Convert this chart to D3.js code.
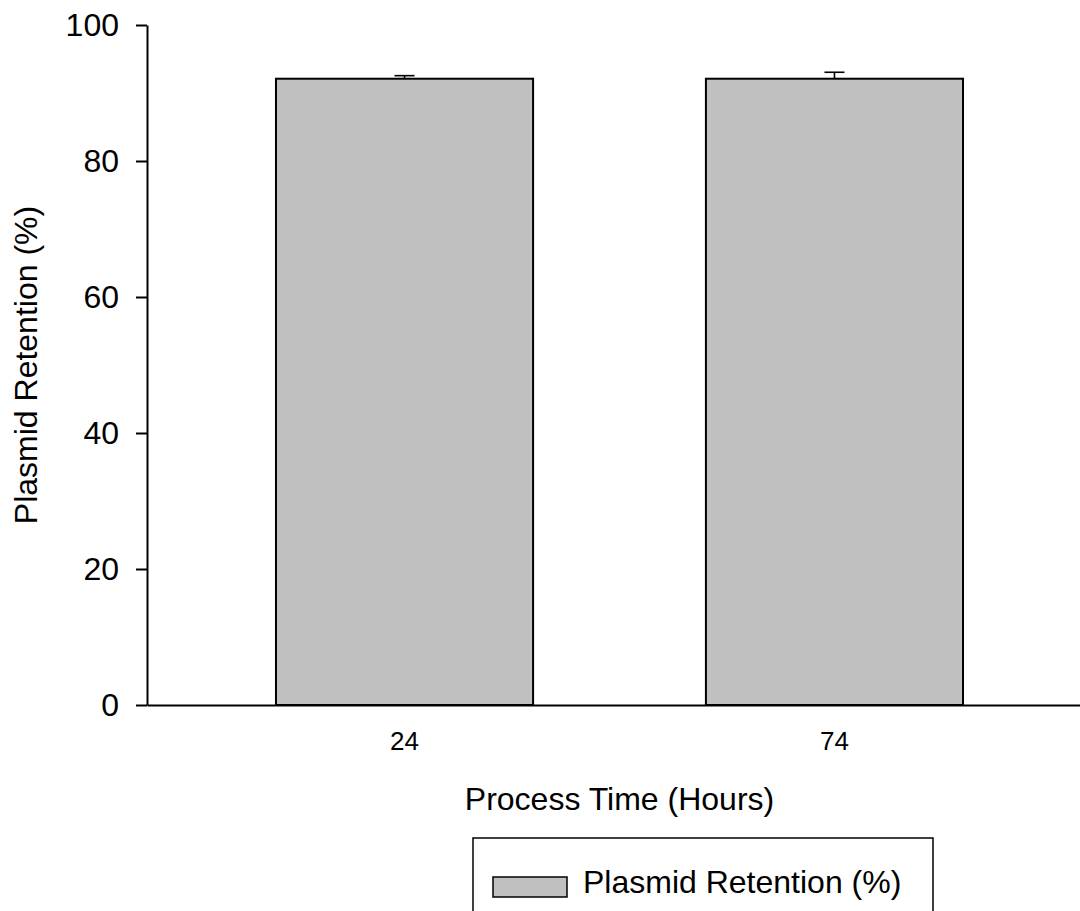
<!DOCTYPE html>
<html>
<head>
<meta charset="utf-8">
<script src="https://cdn.jsdelivr.net/npm/d3@7"></script>
<style>
  html, body { margin: 0; padding: 0; background: #fff; }
  svg { display: block; font-family: Arial, "Liberation Sans", sans-serif; }
</style>
</head>
<body>
<svg id="chart" width="1080" height="911"></svg>
<script>
// Plasmid retention at two process times
const categories = ["24", "74"];
const retention = [92.1, 92.1];
const retentionErr = [0.45, 0.95];
const yTicks = [0, 20, 40, 60, 80, 100];

const xTitle = "Process Time (Hours)";
const yTitle = "Plasmid Retention (%)";
const legendLabel = "Plasmid Retention (%)";

const svg = d3.select("#chart");
const barFill = "#c0c0c0";

const plot = { left: 147, right: 1092, top: 25, bottom: 705 };

const x = d3.scaleBand()
  .domain(categories)
  .range([plot.left, plot.right])
  .paddingInner(0.402)
  .paddingOuter(0.3);

const y = d3.scaleLinear()
  .domain([0, 100])
  .range([plot.bottom, plot.top]);

const data = categories.map((c, i) => ({ cat: c, value: retention[i], err: retentionErr[i] }));

// Bars
svg.append("g")
  .selectAll("rect")
  .data(data)
  .join("rect")
  .attr("x", d => x(d.cat))
  .attr("y", d => y(d.value))
  .attr("width", x.bandwidth())
  .attr("height", d => y(0) - y(d.value))
  .attr("fill", barFill)
  .attr("stroke", "#000")
  .attr("stroke-width", 2);

// Upper error bars
const eb = svg.append("g").attr("stroke", "#000").attr("stroke-width", 1.6);
data.forEach(d => {
  const cx = x(d.cat) + x.bandwidth() / 2;
  eb.append("line")
    .attr("x1", cx).attr("x2", cx)
    .attr("y1", y(d.value)).attr("y2", y(d.value + d.err));
  eb.append("line")
    .attr("x1", cx - 10).attr("x2", cx + 10)
    .attr("y1", y(d.value + d.err)).attr("y2", y(d.value + d.err));
});

// Y axis
const yAxis = svg.append("g")
  .attr("transform", `translate(${plot.left},0)`)
  .call(d3.axisLeft(y).tickValues(yTicks).tickSize(11).tickSizeOuter(0).tickPadding(17));
yAxis.select(".domain").attr("stroke-width", 2);
yAxis.selectAll(".tick line").attr("stroke-width", 2);
yAxis.selectAll(".tick text")
  .attr("font-size", 32)
  .attr("font-family", "Arial, 'Liberation Sans', sans-serif")
  .attr("fill", "#000");

// X axis
const xAxis = svg.append("g")
  .attr("transform", `translate(0,${plot.bottom})`)
  .call(d3.axisBottom(x).tickSize(0).tickSizeOuter(0).tickPadding(27));
xAxis.select(".domain").attr("stroke-width", 2);
xAxis.selectAll(".tick text")
  .attr("font-size", 26)
  .attr("font-family", "Arial, 'Liberation Sans', sans-serif")
  .attr("fill", "#000");

// Axis titles
svg.append("text")
  .attr("x", (plot.left + plot.right) / 2)
  .attr("y", 810)
  .attr("text-anchor", "middle")
  .attr("font-size", 32)
  .text(xTitle);

svg.append("text")
  .attr("transform", `translate(37,${(plot.top + plot.bottom) / 2}) rotate(-90)`)
  .attr("text-anchor", "middle")
  .attr("font-size", 32)
  .text(yTitle);

// Legend
const legend = svg.append("g");
legend.append("rect")
  .attr("x", 473).attr("y", 838)
  .attr("width", 460).attr("height", 110)
  .attr("fill", "#fff")
  .attr("stroke", "#000")
  .attr("stroke-width", 1.5);
legend.append("rect")
  .attr("x", 493).attr("y", 877)
  .attr("width", 74).attr("height", 20)
  .attr("fill", barFill)
  .attr("stroke", "#000")
  .attr("stroke-width", 1.5);
legend.append("text")
  .attr("x", 583).attr("y", 893)
  .attr("font-size", 32)
  .text(legendLabel);
</script>
</body>
</html>
